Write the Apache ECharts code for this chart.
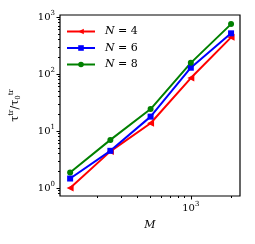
<!DOCTYPE html>
<html><head><meta charset="utf-8">
<script src="https://cdn.jsdelivr.net/npm/echarts@6/dist/echarts.min.js"></script>
<style>html,body{margin:0;padding:0;background:#fff}#c{width:255px;height:244px}</style>
</head><body><div id="c"></div>
<script>
const M = [125, 250, 500, 1000, 2000];
const N4 = [1.0, 4.4, 13.7, 85, 440];
const N6 = [1.47, 4.5, 17.9, 129, 517];
const N8 = [1.88, 7.0, 24.3, 157, 750];
const seriesNames = ['N = 4', 'N = 6', 'N = 8'];
const xMajor = [1000];
const xMinor = [200, 300, 400, 500, 600, 700, 800, 900, 2000];
const yMajor = [1, 10, 100, 1000];
const yMinor = [0.8, 0.9, 2, 3, 4, 5, 6, 7, 8, 9, 20, 30, 40, 50, 60, 70, 80, 90, 200, 300, 400, 500, 600, 700, 800, 900];

const serif = 'DejaVu Serif';
const rich = {
  sup: {fontSize: 7, fontFamily: serif, color: '#000', padding: [0, 0, 7, 0]},
  sub: {fontSize: 7, fontFamily: serif, color: '#000', padding: [6, 0, 0, 0]},
  i: {fontStyle: 'italic', fontFamily: serif, fontSize: 11, color: '#000'}
};
const powLabel = v => '10{sup|' + Math.round(Math.log10(v)) + '}';
const xmin = 105, xmax = 2333, ymin = 0.726, ymax = 1084;

function mk(vals, name, color, symbol, rot, size) {
  return {
    type: 'line', name, data: M.map((m, i) => [m, vals[i]]),
    color, symbol, symbolRotate: rot, symbolSize: size,
    lineStyle: {width: 2, color}, itemStyle: {color},
    xAxisIndex: 0, yAxisIndex: 0, animation: false
  };
}
const chart = echarts.init(document.getElementById('c'));
chart.setOption({
  animation: false,
  grid: {left: 57, right: 15, top: 15, bottom: 48, show: true, borderColor: '#000', borderWidth: 1.2},
  legend: {
    orient: 'vertical', left: 61, top: 21, itemWidth: 28, itemHeight: 7, itemGap: 5.5,
    data: seriesNames,
    formatter: n => '{i|N} = ' + n.split('= ')[1],
    textStyle: {fontFamily: serif, fontSize: 11, color: '#000', padding: [0, 0, 0, 5], rich: rich}
  },
  xAxis: [
    {type: 'log', min: xmin, max: xmax, name: 'M', nameLocation: 'middle', nameGap: 24,
     nameTextStyle: {fontFamily: serif, fontStyle: 'italic', fontSize: 11, color: '#000'},
     axisLine: {show: false}, splitLine: {show: false},
     axisTick: {show: true, length: 3.5, lineStyle: {color: '#000'}, customValues: xMajor},
     axisLabel: {customValues: xMajor, formatter: powLabel, fontFamily: serif, fontSize: 10, color: '#000', margin: 5, rich: rich}},
    {type: 'log', min: xmin, max: xmax, gridIndex: 0, position: 'bottom',
     axisLine: {show: false}, splitLine: {show: false},
     axisTick: {show: true, length: 2, lineStyle: {color: '#000'}, customValues: xMinor},
     axisLabel: {show: false}}
  ],
  yAxis: [
    {type: 'log', min: ymin, max: ymax,
     name: 'τ{sup|tr}/τ{sub|0}{supb|tr}', nameLocation: 'middle', nameGap: 38, nameRotate: 90,
     nameTextStyle: {fontFamily: serif, fontSize: 11, color: '#000', rich: Object.assign({}, rich, {
       supb: {fontSize: 7, fontFamily: serif, color: '#000', padding: [0, 0, 7, 0]}
     })},
     axisLine: {show: false}, splitLine: {show: false},
     axisTick: {show: true, length: 3.5, lineStyle: {color: '#000'}, customValues: yMajor},
     axisLabel: {customValues: yMajor, formatter: powLabel, fontFamily: serif, fontSize: 10, color: '#000', margin: 5, rich: rich}},
    {type: 'log', min: ymin, max: ymax, gridIndex: 0, position: 'left',
     axisLine: {show: false}, splitLine: {show: false},
     axisTick: {show: true, length: 2, lineStyle: {color: '#000'}, customValues: yMinor},
     axisLabel: {show: false}}
  ],
  series: [
    mk(N4, seriesNames[0], '#ff0000', 'triangle', 90, 7),
    mk(N6, seriesNames[1], '#0000ff', 'rect', 0, 6),
    mk(N8, seriesNames[2], '#008000', 'circle', 0, 6)
  ]
});
</script></body></html>
